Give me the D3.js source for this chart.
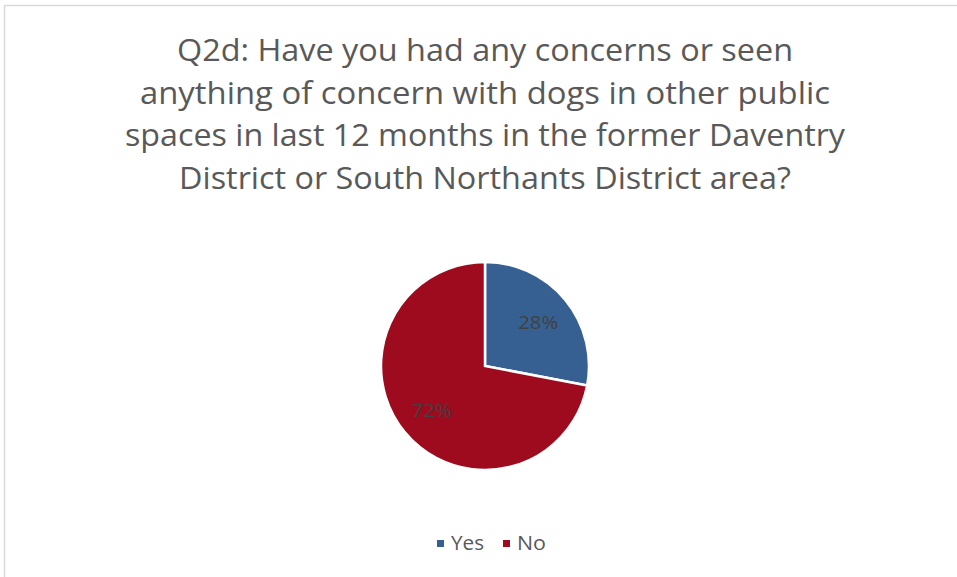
<!DOCTYPE html>
<html>
<head>
<meta charset="utf-8">
<script src="https://cdnjs.cloudflare.com/ajax/libs/d3/7.8.5/d3.min.js"></script>
<style>
  body { margin: 0; background: #fff; }
  svg { display: block; font-family: "Open Sans", "Noto Sans", sans-serif; }
</style>
</head>
<body>
<svg id="chart" width="957" height="577"></svg>
<script>
var categories = ["Yes", "No"];
var values = [28, 72];
var colors = ["#376092", "#9E0B1F"];
var titleLines = [
  "Q2d: Have you had any concerns or seen",
  "anything of concern with dogs in other public",
  "spaces in last 12 months in the former Daventry",
  "District or South Northants District area?"
];

var svg = d3.select("#chart");

// chart area border (only top and left visible in the reference)
svg.append("line").attr("x1", 4).attr("y1", 5.5).attr("x2", 957).attr("y2", 5.5)
    .attr("stroke", "#d9d9d9").attr("stroke-width", 1.5);
svg.append("line").attr("x1", 4.5).attr("y1", 5).attr("x2", 4.5).attr("y2", 577)
    .attr("stroke", "#d9d9d9").attr("stroke-width", 1.5);

// title, widths matched to the reference lines
var lineWidths = [616, 690, 720, 612];
svg.append("g").selectAll("text")
    .data(titleLines)
  .enter().append("text")
    .attr("x", 485)
    .attr("y", function(d, i) { return 61 + i * 42.5; })
    .attr("text-anchor", "middle")
    .attr("font-size", 31)
    .attr("fill", "#595959")
    .attr("textLength", function(d, i) { return lineWidths[i]; })
    .attr("lengthAdjust", "spacingAndGlyphs")
    .text(function(d) { return d; });

var cx = 485, cy = 366, radius = 104;

var pie = d3.pie().sort(null).value(function(d) { return d.value; });
var data = categories.map(function(c, i) { return { name: c, value: values[i], color: colors[i] }; });

var arc = d3.arc().innerRadius(0).outerRadius(radius);
var labelArc = d3.arc().innerRadius(69).outerRadius(69);

var g = svg.append("g").attr("transform", "translate(" + cx + "," + cy + ")");

g.selectAll("path")
    .data(pie(data))
  .enter().append("path")
    .attr("d", arc)
    .attr("fill", function(d) { return d.data.color; })
    .attr("stroke", "#fff")
    .attr("stroke-width", 2.5)
    .attr("stroke-linejoin", "miter");

g.selectAll("text.label")
    .data(pie(data))
  .enter().append("text")
    .attr("class", "label")
    .attr("transform", function(d) { return "translate(" + labelArc.centroid(d) + ")"; })
    .attr("text-anchor", "middle")
    .attr("dy", "0.36em")
    .attr("font-size", 19)
    .attr("fill", "#404040")
    .attr("textLength", 40)
    .attr("lengthAdjust", "spacingAndGlyphs")
    .text(function(d) { return d.data.value + "%"; });

// legend
var legendX = [437, 503];
var legend = svg.append("g").selectAll("g")
    .data(data)
  .enter().append("g")
    .attr("transform", function(d, i) { return "translate(" + legendX[i] + ",540)"; });

legend.append("rect")
    .attr("width", 7).attr("height", 7)
    .attr("fill", function(d) { return d.color; });

legend.append("text")
    .attr("x", 14)
    .attr("y", 10)
    .attr("font-size", 20)
    .attr("fill", "#595959")
    .attr("textLength", function(d) { return d.name == "Yes" ? 33 : 29; })
    .attr("lengthAdjust", "spacingAndGlyphs")
    .text(function(d) { return d.name; });
</script>
</body>
</html>
